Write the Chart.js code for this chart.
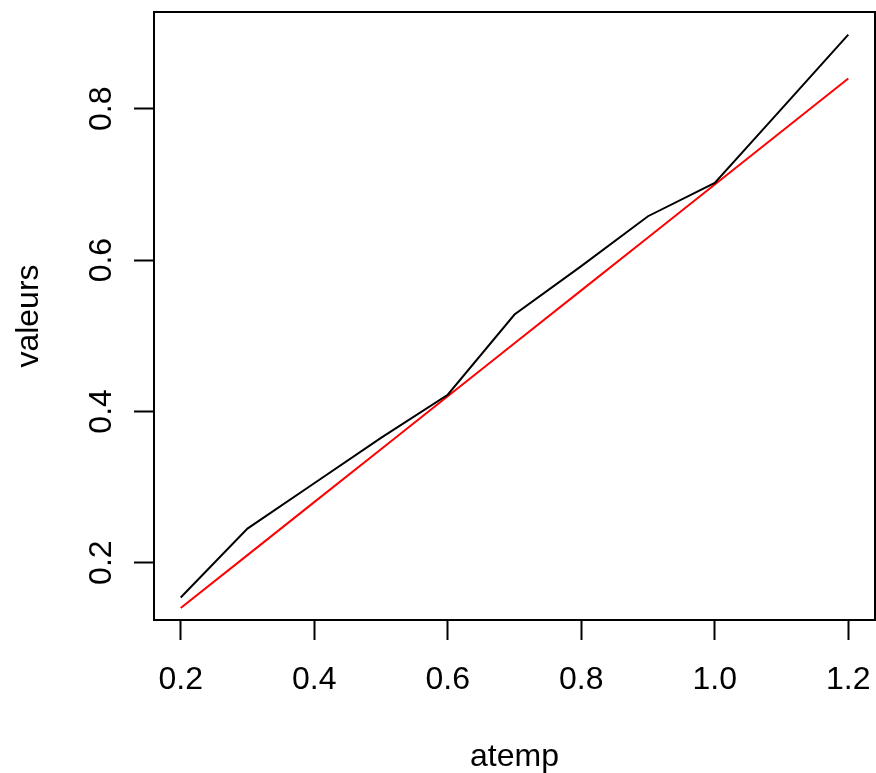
<!DOCTYPE html>
<html>
<head>
<meta charset="utf-8">
<script src="https://cdn.jsdelivr.net/npm/chart.js@4"></script>
<style>
  html, body { margin: 0; padding: 0; background: #fff; }
  #wrap { width: 876px; height: 773px; }
</style>
</head>
<body>
<div id="wrap"><canvas id="plot" width="876" height="773"></canvas></div>
<script>
const atemp = [0.2, 0.3, 0.4, 0.5, 0.6, 0.7, 0.8, 0.9, 1.0, 1.1, 1.2];
const valeurs = [0.154, 0.245, 0.305, 0.365, 0.422, 0.528, 0.592, 0.658, 0.702, 0.800, 0.898];
const ajuste = [0.14, 0.21, 0.28, 0.35, 0.42, 0.49, 0.56, 0.63, 0.70, 0.77, 0.84];
const xTicks = [0.2, 0.4, 0.6, 0.8, 1.0, 1.2];
const yTicks = [0.2, 0.4, 0.6, 0.8];

const font = { family: "'Liberation Sans', Arial, sans-serif", size: 32 };

// R draws a full box round the plot region
const boxPlugin = {
  id: 'box',
  afterDraw(chart) {
    const a = chart.chartArea;
    const ctx = chart.ctx;
    ctx.save();
    ctx.strokeStyle = '#000';
    ctx.lineWidth = 2;
    ctx.strokeRect(a.left, a.top, a.right - a.left, a.bottom - a.top);
    ctx.restore();
  }
};

function toPoints(xs, ys) {
  return xs.map((x, i) => ({ x: x, y: ys[i] }));
}

new Chart(document.getElementById('plot'), {
  type: 'scatter',
  data: {
    datasets: [
      {
        data: toPoints(atemp, valeurs),
        showLine: true,
        borderColor: '#000',
        borderWidth: 2,
        pointRadius: 0,
        tension: 0
      },
      {
        data: toPoints(atemp, ajuste),
        showLine: true,
        borderColor: '#ff0000',
        borderWidth: 2,
        pointRadius: 0,
        tension: 0
      }
    ]
  },
  options: {
    responsive: false,
    animation: false,
    layout: { padding: { top: 12, right: 1, left: 0, bottom: 0 } },
    plugins: { legend: { display: false }, tooltip: { enabled: false } },
    scales: {
      x: {
        type: 'linear',
        min: 0.16,
        max: 1.24,
        afterFit: s => { s.height = 153; s.paddingLeft = 0; s.paddingRight = 0; },
        afterBuildTicks: s => { s.ticks = xTicks.map(v => ({ value: v })); },
        grid: { drawOnChartArea: false, drawTicks: true, tickLength: 20, tickWidth: 2, tickColor: '#000' },
        border: { display: true, color: '#000', width: 2 },
        ticks: { color: '#000', font: font, padding: 21, maxRotation: 0, callback: v => v.toFixed(1) },
        title: { display: true, text: 'atemp', color: '#000', font: { ...font, lineHeight: 1.0 }, padding: { top: 0, bottom: 0 } }
      },
      y: {
        type: 'linear',
        min: 0.1242,
        max: 0.928,
        afterFit: s => { s.width = 154; s.paddingTop = 0; s.paddingBottom = 0; },
        afterBuildTicks: s => { s.ticks = yTicks.map(v => ({ value: v })); },
        grid: { drawOnChartArea: false, drawTicks: true, tickLength: 20, tickWidth: 2, tickColor: '#000' },
        border: { display: true, color: '#000', width: 2 },
        ticks: { color: '#000', font: font, padding: 10, minRotation: 90, maxRotation: 90, crossAlign: 'center', callback: v => v.toFixed(1) },
        title: { display: true, text: 'valeurs', color: '#000', font: font, padding: { top: 10, bottom: 0 } }
      }
    }
  },
  plugins: [boxPlugin]
});
</script>
</body>
</html>
